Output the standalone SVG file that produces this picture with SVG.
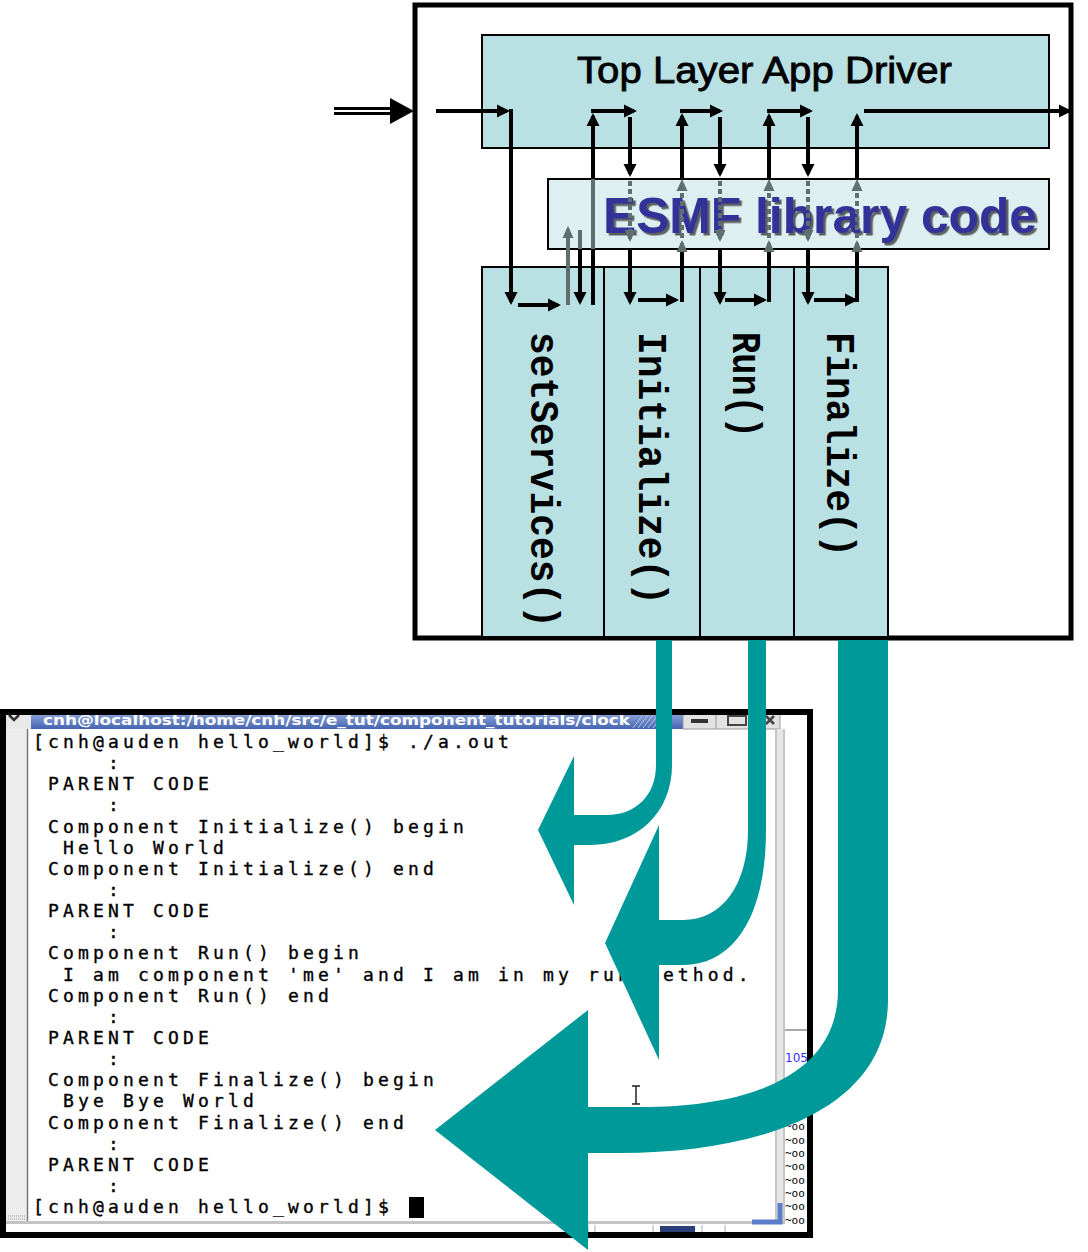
<svg xmlns="http://www.w3.org/2000/svg" width="1088" height="1252" viewBox="0 0 1088 1252">
<defs>
<style>
.blk{stroke:#000;stroke-width:4;fill:none}
.gry{stroke:#5F6F6F;stroke-width:4;fill:none}
.dot{stroke:#5F6F6F;stroke-width:4;fill:none;stroke-dasharray:5 3}
.bx{stroke:#000;stroke-width:2}
.term{font-family:"DejaVu Sans Mono","Liberation Mono",monospace;font-size:18px;letter-spacing:4.16px;fill:#000;stroke:#000;stroke-width:0.35}
.col{font-family:"Liberation Mono","Courier New",monospace;font-weight:bold;font-size:40px;fill:#000}
.teal{fill:#009999}
.tiny{font-family:"DejaVu Sans Mono",monospace;font-size:11px;fill:#000}
</style>
<marker id="ab" markerUnits="userSpaceOnUse" markerWidth="14" markerHeight="14" viewBox="0 0 14 14" refX="10" refY="7" orient="auto"><path d="M0,0.5 L13,7 L0,13.5 z" fill="#000"/></marker>
<marker id="ag" markerUnits="userSpaceOnUse" markerWidth="14" markerHeight="14" viewBox="0 0 14 14" refX="10" refY="7" orient="auto"><path d="M1,1.5 L13,7 L1,12.5 z" fill="#5F6F6F"/></marker>
<filter id="sh" x="-5%" y="-20%" width="115%" height="150%"><feDropShadow dx="2.5" dy="2.5" stdDeviation="0.7" flood-color="#444" flood-opacity="0.85"/></filter>
<linearGradient id="tb" x1="0" y1="0" x2="0" y2="1"><stop offset="0" stop-color="#8AA2D8"/><stop offset="1" stop-color="#4464B0"/></linearGradient>
</defs>
<rect width="1088" height="1252" fill="#fff"/>

<!-- terminal screenshot -->
<g id="terminal">
<rect x="3" y="712" width="807" height="523" fill="#fff"/>
<rect x="5" y="714" width="28" height="15" fill="#E8E8E8"/>
<path d="M9,715 L14,720 L19,715" stroke="#333" stroke-width="2.5" fill="none"/>
<rect x="31" y="714" width="652" height="15" fill="url(#tb)"/>
<path d="M633,728 l10,-13 M638,728 l10,-13 M643,728 l10,-13 M648,728 l10,-13 M653,728 l10,-13" stroke="#B8C8EC" stroke-width="1"/>
<text x="43" y="724.5" font-family="DejaVu Sans,Liberation Sans,sans-serif" font-weight="bold" font-size="14" fill="#fff" textLength="587" lengthAdjust="spacingAndGlyphs">cnh@localhost:/home/cnh/src/e_tut/component_tutorials/clock</text>
<rect x="683" y="714" width="97" height="15" fill="#E2E2E2" stroke="#9A9A9A" stroke-width="1"/>
<path d="M716,714 V729 M756,714 V729" stroke="#9A9A9A" stroke-width="1"/>
<rect x="691" y="719" width="17" height="4" fill="#333"/>
<rect x="728" y="716" width="18" height="9" fill="none" stroke="#444" stroke-width="2"/>
<path d="M766,716 l8,8 M774,716 l-8,8" stroke="#444" stroke-width="2.5"/>
<rect x="5" y="729" width="22" height="493" fill="#EDEDED"/>
<path d="M27.5,729 V1222" stroke="#7A7A7A" stroke-width="1.5"/>
<path d="M8,1216 H26 M8,1219 H26" stroke="#999" stroke-width="1" stroke-dasharray="1 1"/>
<rect x="775" y="729" width="10" height="493" fill="#E6E6E6"/>
<path d="M776,729 V1222 M784,729 V1222" stroke="#A8A8A8" stroke-width="1"/>
<rect x="785" y="714" width="22" height="520" fill="#fff"/>
<path d="M785,1030 H807" stroke="#AAAAAA" stroke-width="2"/>
<text x="785" y="1062" font-family="DejaVu Sans,sans-serif" font-size="12" fill="#3333FF">105</text>
<g class="tiny">
<text x="785" y="1117">~oo</text><text x="785" y="1130">~oo</text><text x="785" y="1144">~oo</text>
<text x="785" y="1157">~oo</text><text x="785" y="1170">~oo</text><text x="785" y="1184">~oo</text>
<text x="785" y="1197">~oo</text><text x="785" y="1210">~oo</text><text x="785" y="1224">~oo</text>
</g>
<rect x="5" y="1221" width="780" height="3" fill="#C4C4C4"/>
<rect x="660" y="1226" width="35" height="7" fill="#2A3F7A"/>
<path d="M588,1225 V1233 M595,1225 V1233 M653,1225 V1233 M702,1225 V1233 M725,1225 V1233" stroke="#AAA" stroke-width="1"/>
<path d="M780,1203 V1222 H752" stroke="#5B7CC8" stroke-width="5" fill="none"/>
<g class="term">
<text x="33" y="748">[cnh@auden hello_world]$ ./a.out</text>
<text x="108" y="769">:</text>
<text x="48" y="790">PARENT CODE</text>
<text x="108" y="811">:</text>
<text x="48" y="833">Component Initialize() begin</text>
<text x="63" y="854">Hello World</text>
<text x="48" y="875">Component Initialize() end</text>
<text x="108" y="896">:</text>
<text x="48" y="917">PARENT CODE</text>
<text x="108" y="938">:</text>
<text x="48" y="959">Component Run() begin</text>
<text x="63" y="981">I am component 'me' and I am in my run method.</text>
<text x="48" y="1002">Component Run() end</text>
<text x="108" y="1023">:</text>
<text x="48" y="1044">PARENT CODE</text>
<text x="108" y="1065">:</text>
<text x="48" y="1086">Component Finalize() begin</text>
<text x="63" y="1107">Bye Bye World</text>
<text x="48" y="1129">Component Finalize() end</text>
<text x="108" y="1150">:</text>
<text x="48" y="1171">PARENT CODE</text>
<text x="108" y="1192">:</text>
<text x="33" y="1213">[cnh@auden hello_world]$</text>
</g>
<rect x="409" y="1197" width="15" height="21" fill="#000"/>
<path d="M632,1086 h8 M636,1086 V1104 M632,1104 h8" stroke="#222" stroke-width="1.5" fill="none"/>
<rect x="3" y="712" width="807" height="523" fill="none" stroke="#000" stroke-width="6"/>
</g>

<!-- outer component box -->
<g id="component">
<rect x="415" y="5" width="656" height="633" fill="none" stroke="#000" stroke-width="5"/>
</g>

<g id="top-layer">
<rect class="bx" x="482" y="35" width="567" height="113" fill="#B9E0E3"/>
<text x="577" y="83" font-family="Liberation Sans,Arial,sans-serif" font-size="36" fill="#000" stroke="#000" stroke-width="0.8" textLength="375" lengthAdjust="spacingAndGlyphs">Top Layer App Driver</text>
</g>

<g id="esmf-library">
<rect class="bx" x="548" y="179" width="501" height="70" fill="#DDEFF0"/>
<text x="603" y="233" font-family="Liberation Sans,Arial,sans-serif" font-weight="bold" font-size="50" fill="#333399" filter="url(#sh)" textLength="434" lengthAdjust="spacingAndGlyphs">ESMF library code</text>
</g>

<g id="col-setservices">
<rect class="bx" x="482" y="267" width="122" height="370" fill="#B9E0E3"/>
<text class="col" transform="translate(531,332) rotate(90)" textLength="296" lengthAdjust="spacingAndGlyphs">setServices()</text>
</g>
<g id="col-initialize">
<rect class="bx" x="604" y="267" width="96" height="370" fill="#B9E0E3"/>
<text class="col" transform="translate(639,332) rotate(90)" textLength="273" lengthAdjust="spacingAndGlyphs">Initialize()</text>
</g>
<g id="col-run">
<rect class="bx" x="700" y="267" width="94" height="370" fill="#B9E0E3"/>
<text class="col" transform="translate(733,332) rotate(90)" textLength="106" lengthAdjust="spacingAndGlyphs">Run()</text>
</g>
<g id="col-finalize">
<rect class="bx" x="794" y="267" width="94" height="370" fill="#B9E0E3"/>
<text class="col" transform="translate(827,332) rotate(90)" textLength="225" lengthAdjust="spacingAndGlyphs">Finalize()</text>
</g>

<!-- connectors -->
<g id="connectors">
<path d="M334,111 H392" stroke="#000" stroke-width="8"/>
<path d="M334,111 H390" stroke="#fff" stroke-width="2"/>
<path d="M390,98 L414,111 L390,124 z" fill="#000"/>
<path class="blk" d="M436,111 H507" marker-end="url(#ab)"/>
<path class="blk" d="M511,109 V302" marker-end="url(#ab)"/>
<path class="blk" d="M518,305 H558" marker-end="url(#ab)"/>
<path class="gry" d="M568,305 V229" marker-end="url(#ag)"/>
<path class="gry" d="M580,230 V249"/>
<path class="blk" d="M580,249 V302" marker-end="url(#ab)"/>
<path class="blk" d="M593,305 V249"/>
<path class="gry" d="M593,249 V179"/>
<path class="blk" d="M593,179 V116" marker-end="url(#ab)"/>
<path class="blk" d="M591,111 H634" marker-end="url(#ab)"/>
<path class="blk" d="M630,117 V174" marker-end="url(#ab)"/>
<path class="dot" d="M630,181 V239" marker-end="url(#ag)"/>
<path class="blk" d="M630,249 V302" marker-end="url(#ab)"/>
<path class="blk" d="M638,300 H676" marker-end="url(#ab)"/>
<path class="blk" d="M682,302 V249"/>
<path class="gry" d="M682,249 V243" marker-end="url(#ag)"/>
<path class="dot" d="M682,238 V182" marker-end="url(#ag)"/>
<path class="blk" d="M682,178 V116" marker-end="url(#ab)"/>
<path class="blk" d="M680,111 H720" marker-end="url(#ab)"/>
<path class="blk" d="M720,117 V174" marker-end="url(#ab)"/>
<path class="dot" d="M720,181 V239" marker-end="url(#ag)"/>
<path class="blk" d="M720,249 V302" marker-end="url(#ab)"/>
<path class="blk" d="M725,300 H764" marker-end="url(#ab)"/>
<path class="blk" d="M769,302 V249"/>
<path class="gry" d="M769,249 V243" marker-end="url(#ag)"/>
<path class="dot" d="M769,238 V182" marker-end="url(#ag)"/>
<path class="blk" d="M769,178 V116" marker-end="url(#ab)"/>
<path class="blk" d="M767,111 H810" marker-end="url(#ab)"/>
<path class="blk" d="M808,117 V174" marker-end="url(#ab)"/>
<path class="dot" d="M808,181 V239" marker-end="url(#ag)"/>
<path class="blk" d="M808,249 V302" marker-end="url(#ab)"/>
<path class="blk" d="M814,300 H855" marker-end="url(#ab)"/>
<path class="blk" d="M857,302 V249"/>
<path class="gry" d="M857,249 V243" marker-end="url(#ag)"/>
<path class="dot" d="M857,238 V182" marker-end="url(#ag)"/>
<path class="blk" d="M857,178 V116" marker-end="url(#ab)"/>
<path class="blk" d="M864,111 H1069" marker-end="url(#ab)"/>
<path class="teal" d="M656,640 L672,640 L672,765 C672,812 638,845 590,845 L574,845 L574,905 L538,830 L574,756 L574,815 L607,815 C636,815 656,795 656,765 Z"/>
<path class="teal" d="M748,640 L766,640 L766,830 C766,915 735,965 683,965 L659,965 L659,1060 L605,943 L659,825 L659,920 L683,920 C722,920 748,885 748,830 Z"/>
<path class="teal" d="M838,640 L888,640 L888,1000 C888,1110 760,1153 620,1153 L588,1153 L588,1250 L435,1130 L588,1010 L588,1107 L640,1107 C760,1107 838,1070 838,990 Z"/>
</g>
</svg>
